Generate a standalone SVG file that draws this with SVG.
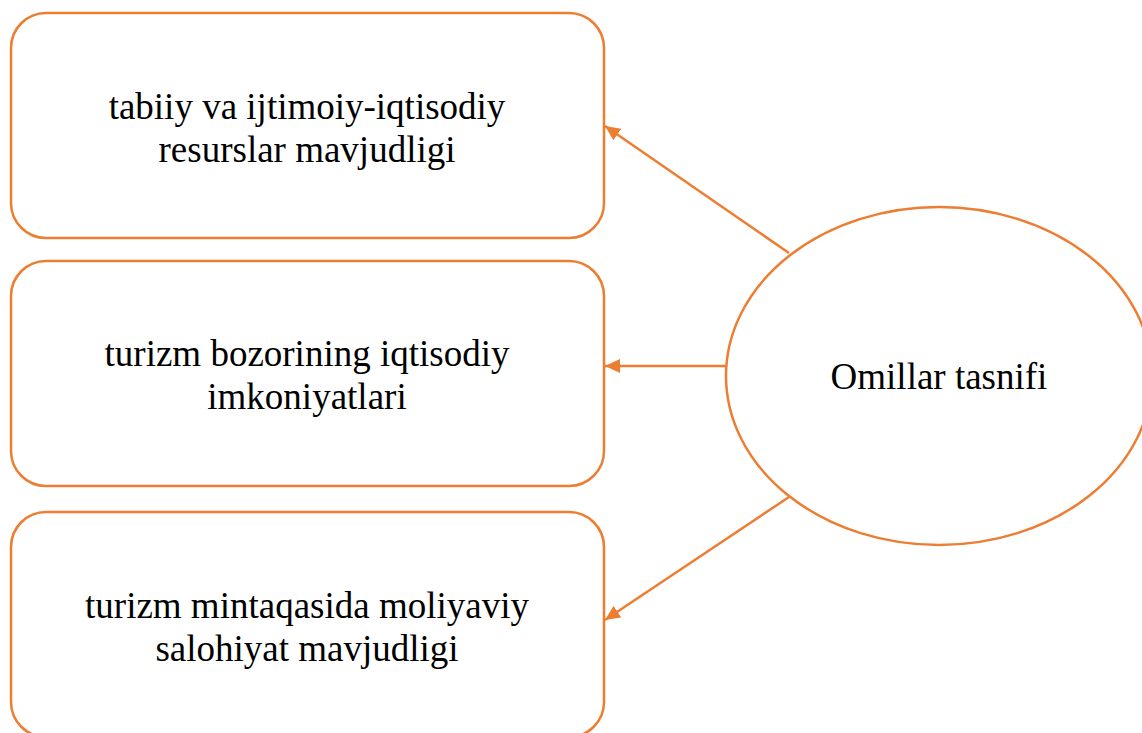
<svg xmlns="http://www.w3.org/2000/svg" width="1142" height="733" viewBox="0 0 1142 733">
<style>
.box{fill:#fff;stroke:#ED7D31;stroke-width:2.5}
.lbl{font-family:"Liberation Serif","Times New Roman",serif;font-size:37px;fill:#000;text-anchor:middle}
.conn{stroke:#ED7D31;stroke-width:2.5;fill:none;marker-end:url(#ah)}
</style>
<defs>
<marker id="ah" markerUnits="userSpaceOnUse" markerWidth="16" markerHeight="14" refX="15" refY="7" orient="auto">
<path d="M0,0 L15,7 L0,14 Z" fill="#ED7D31"/>
</marker>
</defs>
<rect width="1142" height="733" fill="#fff"/>
<g id="connectors">
<line class="conn" x1="789" y1="253" x2="605" y2="126"/>
<line class="conn" x1="726" y1="366" x2="605" y2="366"/>
<line class="conn" x1="789" y1="497" x2="605" y2="620"/>
</g>
<g id="node-resources">
<rect class="box" x="11" y="13" width="593" height="225" rx="35"/>
<text class="lbl" x="307" y="119">tabiiy va ijtimoiy-iqtisodiy</text>
<text class="lbl" x="307" y="162">resurslar mavjudligi</text>
</g>
<g id="node-market">
<rect class="box" x="11" y="261" width="593" height="225" rx="35"/>
<text class="lbl" x="307" y="366">turizm bozorining iqtisodiy</text>
<text class="lbl" x="307" y="409">imkoniyatlari</text>
</g>
<g id="node-finance">
<rect class="box" x="11" y="512" width="593" height="225" rx="35"/>
<text class="lbl" x="307" y="618">turizm mintaqasida moliyaviy</text>
<text class="lbl" x="307" y="661">salohiyat mavjudligi</text>
</g>
<g id="node-factors">
<ellipse class="box" cx="939" cy="376" rx="213" ry="169"/>
<text class="lbl" x="939" y="389">Omillar tasnifi</text>
</g>
</svg>
